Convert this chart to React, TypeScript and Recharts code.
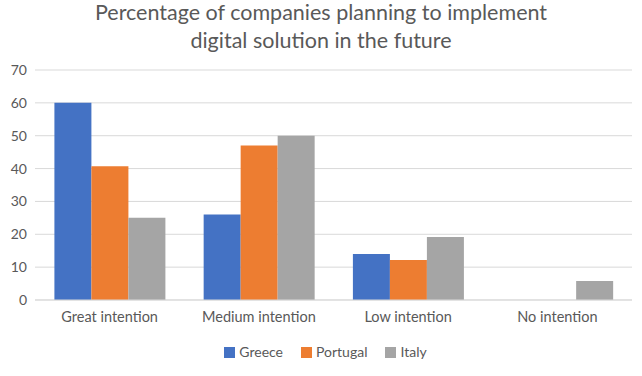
import React from "react";
import { BarChart, Bar, XAxis, YAxis, CartesianGrid, Legend } from "recharts";

const CATEGORIES = ["Great intention", "Medium intention", "Low intention", "No intention"];
const GREECE = [60, 26, 14, 0];
const PORTUGAL = [40.7, 47, 12.2, 0];
const ITALY = [25, 50, 19.2, 5.8];
const Y_TICKS = [0, 10, 20, 30, 40, 50, 60, 70];

const SERIES = [
    { key: "Greece", values: GREECE, color: "#4472C4" },
    { key: "Portugal", values: PORTUGAL, color: "#ED7D31" },
    { key: "Italy", values: ITALY, color: "#A5A5A5" },
];
const ORDER = SERIES.map((s) => s.key);

const FONT = "Lato, 'Open Sans', sans-serif";
const TEXT = "#595959";

const data = CATEGORIES.map((name, i) => {
    const row: Record<string, any> = { name };
    SERIES.forEach((s) => {
        row[s.key] = s.values[i];
    });
    return row;
});

const App: React.FC = () => {
    return (
        <div style={{ position: "absolute", left: 0, top: 0, width: 642, height: 376, background: "#fff", fontFamily: FONT }}>
            <div
                style={{
                    position: "absolute",
                    top: 0,
                    left: 0,
                    width: 642,
                    textAlign: "center",
                    color: TEXT,
                    fontSize: 21.5,
                    lineHeight: "28px",
                    marginTop: -2,
                }}
            >
                Percentage of companies planning to implement
                <br />
                digital solution in the future
            </div>
            <BarChart
                width={642}
                height={376}
                data={data}
                margin={{ top: 70, right: 10, left: 5, bottom: 20 }}
                barCategoryGap="13%"
                barGap={0}
                style={{ position: "absolute", top: 0, left: 0 }}
            >
                <CartesianGrid vertical={false} stroke="#d9d9d9" />
                <XAxis
                    dataKey="name"
                    axisLine={{ stroke: "#d9d9d9" }}
                    tickLine={false}
                    tickMargin={6}
                    tick={{ fill: TEXT, fontSize: 14.5, fontFamily: FONT }}
                    height={30}
                />
                <YAxis
                    domain={[0, 70]}
                    ticks={Y_TICKS}
                    axisLine={false}
                    tickLine={false}
                    tick={{ fill: TEXT, fontSize: 14, fontFamily: FONT }}
                    width={30}
                />
                <Legend
                    verticalAlign="bottom"
                    iconType="square"
                    iconSize={11}
                    height={26}
                    wrapperStyle={{ bottom: 9, paddingLeft: 16 }}
                    itemSorter={(item: any) => ORDER.indexOf(item.value)}
                    formatter={(value: string) => (
                        <span style={{ color: TEXT, fontSize: 14, fontFamily: FONT, paddingRight: 8 }}>{value}</span>
                    )}
                />
                {SERIES.map((s) => (
                    <Bar key={s.key} dataKey={s.key} fill={s.color} isAnimationActive={false} />
                ))}
            </BarChart>
        </div>
    );
};

export default App;
